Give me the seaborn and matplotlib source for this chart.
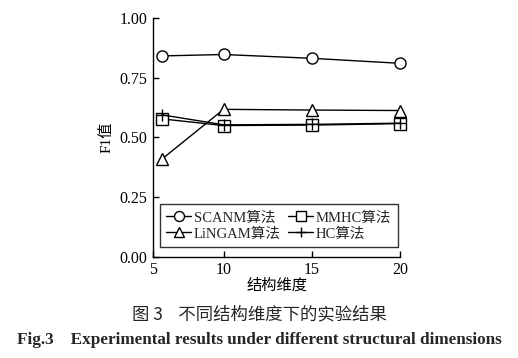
import pandas as pd
import matplotlib
matplotlib.use('Agg')
import matplotlib.pyplot as plt
import seaborn as sns

sns.set_theme(style='ticks')
plt.rcParams['font.family'] = ['Liberation Serif', 'Noto Sans CJK SC']
plt.rcParams['axes.unicode_minus'] = False

# data
dims = [6.5, 10, 15, 20]
dim_labels = ['5', '10', '15', '20']
scanm = [0.842, 0.848, 0.832, 0.811]
lingam = [0.409, 0.618, 0.615, 0.613]
mmhc = [0.578, 0.550, 0.552, 0.558]
hc = [0.595, 0.553, 0.555, 0.560]
algos = ['SCANM算法', 'MMHC算法', 'LiNGAM算法', 'HC算法']

df = pd.DataFrame({
    'dim': dims * 4,
    'f1': scanm + mmhc + lingam + hc,
    'algo': [a for a in algos for _ in dims],
})

fig = plt.figure(figsize=(5.18, 3.58), dpi=100)
ax = fig.add_axes([0.2954, 0.283, 0.477, 0.666])

markers = {'SCANM算法': 'o', 'MMHC算法': 's', 'LiNGAM算法': '^', 'HC算法': '+'}
for a in algos:
    sns.lineplot(data=df[df['algo'] == a], x='dim', y='f1', color='black',
                 linewidth=1, marker=markers[a], markersize=8,
                 markerfacecolor='white' if a != 'HC算法' else 'black',
                 markeredgecolor='black', markeredgewidth=1, ax=ax,
                 label=a, clip_on=False)

h, l = ax.get_legend_handles_labels()
order = [0, 2, 1, 3]
leg = ax.legend([h[i] for i in order], [l[i] for i in order], ncol=2,
                loc='lower right', bbox_to_anchor=(0.992, 0.04), borderaxespad=0,
                frameon=True, fancybox=False, edgecolor='black', fontsize=10.5,
                handlelength=1.7, handletextpad=0.2, columnspacing=0.5,
                labelspacing=0.2, borderpad=0.45, markerscale=0.9)
leg.get_frame().set_linewidth(1)

ax.set_xlim(6, 20)
ax.set_ylim(0, 1)
ax.set_xticks([6, 10, 15, 20])
ax.set_xticklabels(dim_labels)
ax.set_yticks([0, 0.25, 0.5, 0.75, 1.0])
ax.set_yticklabels(['0.00', '0.25', '0.50', '0.75', '1.00'])
ax.tick_params(direction='in', length=4, width=1, labelsize=11.5, colors='black', pad=4)
for s in ['top', 'right']:
    ax.spines[s].set_visible(False)
for s in ['left', 'bottom']:
    ax.spines[s].set_linewidth(1)
    ax.spines[s].set_color('black')

ax.set_xlabel('结构维度', fontsize=11, labelpad=0, color='black')
ax.set_ylabel('F1值', fontsize=11, labelpad=4, color='black')

fig.text(0.5, 0.123, '图 3    不同结构维度下的实验结果', ha='center', va='center',
         fontsize=12.5, family=['Noto Sans CJK SC', 'DejaVu Sans'])
fig.text(0.5, 0.05, 'Fig.3    Experimental results under different structural dimensions',
         ha='center', va='center', fontsize=12.3, fontweight='bold',
         family=['Liberation Serif', 'DejaVu Serif'])

fig.savefig('out.png', dpi=100)
